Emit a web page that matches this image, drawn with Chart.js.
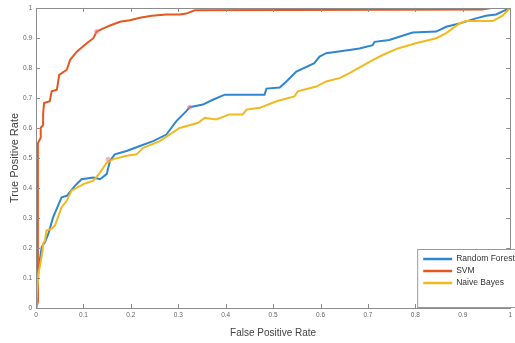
<!DOCTYPE html>
<html lang="en">
<head>
    <meta charset="UTF-8">
    <title>ROC curves</title>
    <script src="https://cdn.jsdelivr.net/npm/chart.js"></script>
    <style>
        html, body { margin: 0; padding: 0; background: #fff; }
        #rocChart { display: block; }
    </style>
</head>
<body>
    <canvas id="rocChart" width="515" height="343"></canvas>

    <script>
        // ROC points (false positive rate -> true positive rate)
        const rfFpr = [0, 0.003, 0.005, 0.008, 0.012, 0.019, 0.026, 0.036, 0.051, 0.054, 0.065, 0.082, 0.096, 0.121, 0.135, 0.149, 0.156, 0.166, 0.191, 0.219, 0.247, 0.275, 0.296, 0.317, 0.324, 0.352, 0.373, 0.398, 0.482, 0.486, 0.514, 0.528, 0.549, 0.587, 0.598, 0.612, 0.661, 0.682, 0.71, 0.714, 0.745, 0.794, 0.844, 0.865, 0.893, 0.928, 0.949, 0.97, 1];
        const rfTpr = [0, 0.03, 0.126, 0.159, 0.203, 0.22, 0.247, 0.302, 0.358, 0.369, 0.374, 0.407, 0.429, 0.435, 0.429, 0.446, 0.49, 0.512, 0.523, 0.54, 0.556, 0.578, 0.623, 0.656, 0.669, 0.678, 0.694, 0.711, 0.711, 0.731, 0.735, 0.755, 0.788, 0.816, 0.838, 0.849, 0.86, 0.865, 0.876, 0.887, 0.893, 0.918, 0.921, 0.937, 0.948, 0.965, 0.974, 0.978, 1];

        const svmFpr = [0, 0.004, 0.004, 0.01, 0.01, 0.015, 0.015, 0.017, 0.029, 0.033, 0.044, 0.049, 0.065, 0.072, 0.086, 0.107, 0.121, 0.128, 0.142, 0.159, 0.177, 0.198, 0.219, 0.244, 0.275, 0.303, 0.317, 0.335, 0.94, 0.96, 1];
        const svmTpr = [0, 0.02, 0.55, 0.567, 0.60, 0.61, 0.646, 0.683, 0.689, 0.722, 0.727, 0.777, 0.794, 0.827, 0.854, 0.882, 0.899, 0.921, 0.932, 0.943, 0.954, 0.959, 0.967, 0.974, 0.978, 0.978, 0.981, 0.992, 0.995, 1, 1];

        const nbFpr = [0, 0.001, 0.003, 0.005, 0.008, 0.014, 0.015, 0.019, 0.022, 0.033, 0.04, 0.054, 0.065, 0.075, 0.1, 0.121, 0.135, 0.149, 0.163, 0.191, 0.212, 0.226, 0.261, 0.303, 0.342, 0.356, 0.38, 0.408, 0.436, 0.444, 0.472, 0.507, 0.545, 0.552, 0.591, 0.612, 0.64, 0.661, 0.71, 0.731, 0.763, 0.801, 0.844, 0.865, 0.893, 0.907, 0.963, 0.984, 1];
        const nbTpr = [0, 0.026, 0.07, 0.115, 0.137, 0.192, 0.214, 0.225, 0.258, 0.264, 0.275, 0.336, 0.358, 0.391, 0.413, 0.424, 0.451, 0.484, 0.496, 0.507, 0.512, 0.534, 0.556, 0.60, 0.617, 0.634, 0.628, 0.645, 0.645, 0.661, 0.667, 0.689, 0.705, 0.722, 0.738, 0.755, 0.766, 0.783, 0.826, 0.843, 0.865, 0.882, 0.899, 0.916, 0.948, 0.956, 0.956, 0.974, 1];

        // little threshold markers seen on the curves
        const markFpr = [0.128, 0.324, 0.152];
        const markTpr = [0.921, 0.669, 0.496];

        const seriesNames = ['Random Forest', 'SVM', 'Naive Bayes'];
        const seriesColors = ['#2f86d0', '#e4581f', '#f3b81e'];

        function toPoints(xs, ys) {
            return xs.map((x, i) => ({ x: x, y: ys[i] }));
        }

        // inward ticks + box, MATLAB style
        const boxPlugin = {
            id: 'box',
            afterDatasetsDraw(chart) {
                const { ctx, chartArea: a, scales } = chart;
                ctx.save();
                ctx.strokeStyle = '#8c8c8c';
                ctx.lineWidth = 1;
                const tl = 4;
                ctx.beginPath();
                scales.x.ticks.forEach(t => {
                    const px = Math.round(scales.x.getPixelForValue(t.value)) + 0.5;
                    ctx.moveTo(px, a.bottom); ctx.lineTo(px, a.bottom - tl);
                    ctx.moveTo(px, a.top); ctx.lineTo(px, a.top + tl);
                });
                scales.y.ticks.forEach(t => {
                    const py = Math.round(scales.y.getPixelForValue(t.value)) + 0.5;
                    ctx.moveTo(a.left, py); ctx.lineTo(a.left + tl, py);
                    ctx.moveTo(a.right, py); ctx.lineTo(a.right - tl, py);
                });
                ctx.stroke();
                ctx.strokeRect(Math.round(a.left) + 0.5, Math.round(a.top) + 0.5,
                    Math.round(a.right - a.left), Math.round(a.bottom - a.top));
                ctx.restore();
            }
        };

        // legend box in the lower right corner
        const legendPlugin = {
            id: 'boxLegend',
            afterDraw(chart) {
                const { ctx, chartArea: a } = chart;
                const x0 = a.right - 93, y0 = a.bottom - 59;
                ctx.save();
                ctx.fillStyle = '#fff';
                ctx.fillRect(x0, y0, 110, 59);
                ctx.strokeStyle = '#9a9a9a';
                ctx.lineWidth = 1;
                ctx.strokeRect(x0 + 0.5, y0 + 0.5, 110, 58);
                ctx.font = '8.5px "Liberation Sans", Arial, sans-serif';
                ctx.textBaseline = 'middle';
                for (let i = 0; i < 3; i++) {
                    const ds = chart.data.datasets[i];
                    const ly = y0 + 10 + i * 12;
                    ctx.strokeStyle = ds.borderColor;
                    ctx.lineWidth = 2.5;
                    ctx.beginPath();
                    ctx.moveTo(x0 + 6, ly); ctx.lineTo(x0 + 35, ly);
                    ctx.stroke();
                    ctx.fillStyle = '#333';
                    ctx.fillText(ds.label, x0 + 39, ly);
                }
                ctx.restore();
            }
        };

        const tickFont = { family: '"Liberation Sans", Arial, sans-serif', size: 6.5 };
        // MATLAB prints 0, 0.1 ... 0.9, 1
        const tickLabel = v => String(Number(v.toFixed(1)));

        new Chart(document.getElementById('rocChart'), {
            type: 'line',
            data: {
                datasets: [
                    { label: seriesNames[0], data: toPoints(rfFpr, rfTpr), borderColor: seriesColors[0], order: 3 },
                    { label: seriesNames[1], data: toPoints(svmFpr, svmTpr), borderColor: seriesColors[1], order: 2 },
                    { label: seriesNames[2], data: toPoints(nbFpr, nbTpr), borderColor: seriesColors[2], order: 1 },
                    {
                        label: 'markers', data: toPoints(markFpr, markTpr), showLine: false, order: 0,
                        pointRadius: 2.5, pointBackgroundColor: 'rgba(240,120,130,0.55)',
                        pointBorderColor: 'rgba(240,120,130,0.7)', pointBorderWidth: 0
                    }
                ]
            },
            options: {
                responsive: false,
                animation: false,
                layout: { padding: { top: 6, right: 4, left: 0, bottom: 0 } },
                elements: {
                    line: { borderWidth: 2, tension: 0, fill: false },
                    point: { radius: 0, hoverRadius: 0 }
                },
                plugins: {
                    legend: { display: false },
                    tooltip: { enabled: false }
                },
                scales: {
                    x: {
                        type: 'linear', min: 0, max: 1,
                        afterFit: s => { s.height = 35; },
                        grid: { display: false, drawTicks: false },
                        border: { display: false },
                        ticks: { stepSize: 0.1, font: tickFont, color: '#666', padding: 3, maxRotation: 0, autoSkip: false, callback: tickLabel },
                        title: {
                            display: true, text: 'False Positive Rate', color: '#444',
                            font: { family: '"Liberation Sans", Arial, sans-serif', size: 10 },
                            padding: { top: 0, bottom: 4 }
                        }
                    },
                    y: {
                        type: 'linear', min: 0, max: 1,
                        afterFit: s => { s.width = 36; },
                        grid: { display: false, drawTicks: false },
                        border: { display: false },
                        ticks: { stepSize: 0.1, font: tickFont, color: '#666', padding: 4, autoSkip: false, callback: tickLabel },
                        title: {
                            display: true, text: 'True Positive Rate', color: '#444',
                            font: { family: '"Liberation Sans", Arial, sans-serif', size: 11 },
                            padding: { top: 8, bottom: 0 }
                        }
                    }
                }
            },
            plugins: [boxPlugin, legendPlugin]
        });
    </script>
</body>
</html>
